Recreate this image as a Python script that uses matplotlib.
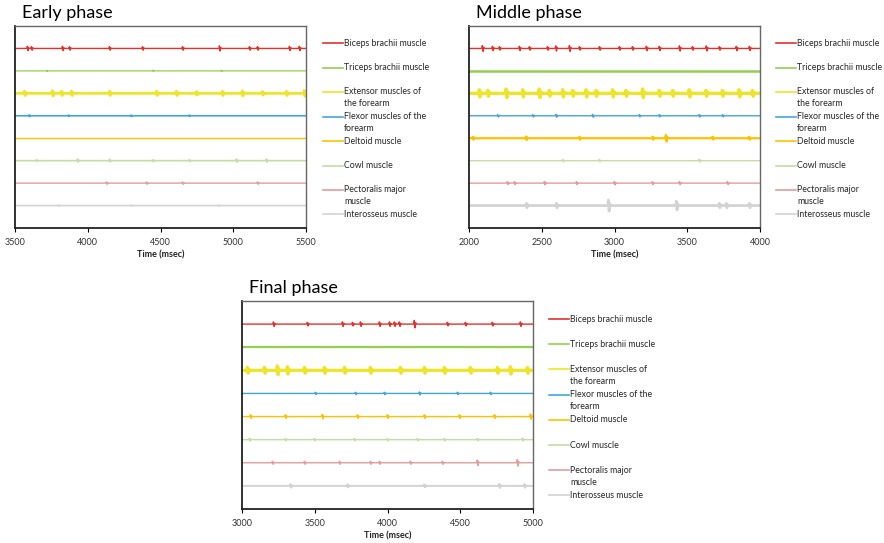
import matplotlib.pyplot as plt
from matplotlib.lines import Line2D

W, H = 884, 543  # output size in px

muscles = ["Biceps brachii muscle", "Triceps brachii muscle", "Extensor muscles of\nthe forearm",
           "Flexor muscles of the\nforearm", "Deltoid muscle", "Cowl muscle",
           "Pectoralis major\nmuscle", "Interosseus muscle"]
colors = ["#E5312B", "#92D050", "#EEE52A", "#45A5DA", "#FFC000", "#C4DDA0", "#E39C9C", "#D3D3D3"]

# spikes: (time msec, amplitude in trace units), top trace first
early_range = (3500, 5500)
early_spikes = [
    [(3589, .15), (3617, .12), (3830, .15), (3878, .12), (4153, .12), (4380, .12), (4655, .12),
     (4909, .18), (5115, .12), (5170, .12), (5390, .15), (5458, .15)],
    [(3720, .04), (4450, .05), (4920, .04)],
    [(3569, .15), (3761, .18), (3823, .15), (3892, .15), (4153, .15), (4476, .15), (4613, .15),
     (4751, .12), (4929, .15), (5066, .18), (5204, .12), (5369, .15), (5492, .2)],
    [(3600, .06), (3870, .05), (4300, .05), (4700, .05)],
    [],
    [(3650, .06), (3933, .1), (4153, .08), (4450, .06), (4700, .06), (5025, .1), (5231, .1)],
    [(4132, .08), (4407, .08), (4655, .08), (5170, .08)],
    [(3800, .04), (4300, .04), (4900, .04)],
]
early_lw = [1.0, 0.9, 2.0, 1.2, 1.0, 1.2, 1.0, 1.2]

middle_range = (2000, 4000)
middle_spikes = [
    [(2096, .2), (2165, .15), (2213, .12), (2350, .15), (2419, .12), (2543, .12), (2600, .18),
     (2694, .2), (2763, .12), (2900, .12), (3037, .12), (3127, .12), (3223, .15), (3312, .15),
     (3450, .18), (3539, .12), (3635, .18), (3724, .12), (3841, .15), (3931, .15)],
    [],
    [(2075, .25), (2133, .2), (2259, .3), (2373, .25), (2487, .3), (2556, .2), (2648, .25),
     (2716, .2), (2808, .25), (2876, .2), (2991, .25), (3082, .2), (3197, .3), (3311, .2),
     (3403, .2), (3517, .25), (3632, .2), (3746, .2), (3860, .25), (3952, .2)],
    [(2201, .08), (2442, .08), (2602, .1), (2853, .1), (3174, .08), (3311, .08), (3586, .08), (3746, .08)],
    [(2030, .1), (2396, .12), (2762, .1), (3265, .1), (3357, .22), (3677, .1), (3929, .1)],
    [(2648, .08), (2899, .08), (3586, .1)],
    [(2268, .1), (2316, .1), (2522, .12), (2742, .1), (3003, .12), (3264, .1), (3450, .1), (3780, .1)],
    [(2398, .15), (2604, .15), (2962, .38), (3429, .3), (3724, .15), (3772, .15), (3930, .15)],
]
middle_lw = [1.0, 1.8, 2.4, 1.0, 1.6, 1.0, 1.0, 2.0]

final_range = (3000, 5000)
final_spikes = [
    [(3220, .15), (3453, .12), (3694, .15), (3763, .12), (3818, .15), (3948, .15), (4017, .15),
     (4051, .15), (4085, .15), (4188, .25), (4415, .12), (4539, .12), (4724, .12), (4917, .15)],
    [],
    [(3041, .2), (3158, .2), (3247, .3), (3316, .25), (3433, .2), (3570, .2), (3708, .2),
     (3886, .2), (4092, .2), (4257, .2), (4395, .2), (4573, .2), (4759, .2), (4848, .25), (4965, .2)],
    [(3508, .08), (3783, .08), (3982, .08), (4223, .1), (4484, .08), (4711, .08)],
    [(3062, .12), (3302, .12), (3556, .15), (3797, .12), (4003, .12), (4257, .12), (4498, .12),
     (4738, .12), (4986, .18)],
    [(3055, .1), (3302, .08), (3501, .08), (3776, .08), (4003, .08), (4209, .08), (4394, .08),
     (4621, .08), (4931, .1)],
    [(3213, .1), (3433, .1), (3673, .1), (3886, .1), (3948, .1), (4161, .1), (4381, .1),
     (4621, .18), (4896, .22)],
    [(3337, .12), (3728, .1), (4257, .1), (4772, .14), (4944, .12)],
]
final_lw = [1.0, 1.6, 2.3, 1.0, 1.0, 1.0, 1.0, 1.4]

FONT = "Lato"
GAIN = 0.65  # display gain for spike heights


def spike_trace(spikes, base, x0, x1):
    # each spike as a short zigzag around the baseline
    xs, ys = [x0], [base]
    for t, a in sorted(spikes):
        a = a * GAIN
        xs += [t - 8, t - 4, t + 1, t + 5, t + 8]
        ys += [base, base + a, base - a, base + a * 0.4, base]
    xs.append(x1)
    ys.append(base)
    return xs, ys


def panel(fig, box, title, xr, spikes, lws, leg_x, leg_y, leg_dy):
    l, t, r, b = box
    ax = fig.add_axes([l / W, 1 - b / H, (r - l) / W, (b - t) / H])
    n = len(muscles)
    for i in range(n):
        xs, ys = spike_trace(spikes[i], n - i, xr[0], xr[1])
        ax.plot(xs, ys, color=colors[i], lw=lws[i], solid_joinstyle="round")
    ax.set_xlim(xr)
    ax.set_ylim(0, n + 1)
    ax.set_xticks(range(xr[0], xr[1] + 1, 500))
    ax.set_yticks([])
    ax.tick_params(axis="x", length=3, width=0.8, pad=4, labelsize=6.5, labelcolor="#333333")
    for lab in ax.get_xticklabels():
        lab.set_fontfamily(FONT)
    for s in ["left", "bottom"]:
        ax.spines[s].set_color("#222222")
        ax.spines[s].set_linewidth(1.3)
    for s in ["top", "right"]:
        ax.spines[s].set_color("#666666")
        ax.spines[s].set_linewidth(1.0)
    ax.set_xlabel("Time (msec)", fontsize=6.5, fontweight="bold", family=FONT, labelpad=3, color="#222222")
    fig.text((l + 7) / W, 1 - (t - 13) / H, title, fontsize=13, family=FONT, va="center", ha="left")

    # legend drawn by hand so keys line up with the first line of each label
    for i, lab in enumerate(muscles):
        y = 1 - (leg_y + i * leg_dy) / H
        fig.add_artist(Line2D([leg_x / W, (leg_x + 20) / W], [y, y], color=colors[i], lw=1.2))
        for j, part in enumerate(lab.split("\n")):
            fig.text((leg_x + 21) / W, y - j * 12 / H, part, fontsize=6.3, family=FONT,
                     va="center", ha="left", color="#262626")
    return ax


fig = plt.figure(figsize=(W / 100, H / 100), dpi=100)
panel(fig, (15, 26, 306, 228), "Early phase", early_range, early_spikes, early_lw, 323, 43, 24.5)
panel(fig, (469, 26, 760, 228), "Middle phase", middle_range, middle_spikes, middle_lw, 776, 43, 24.5)
panel(fig, (242, 301, 533, 509), "Final phase", final_range, final_spikes, final_lw, 549, 319, 25.2)

plt.savefig("out.png", dpi=100)
